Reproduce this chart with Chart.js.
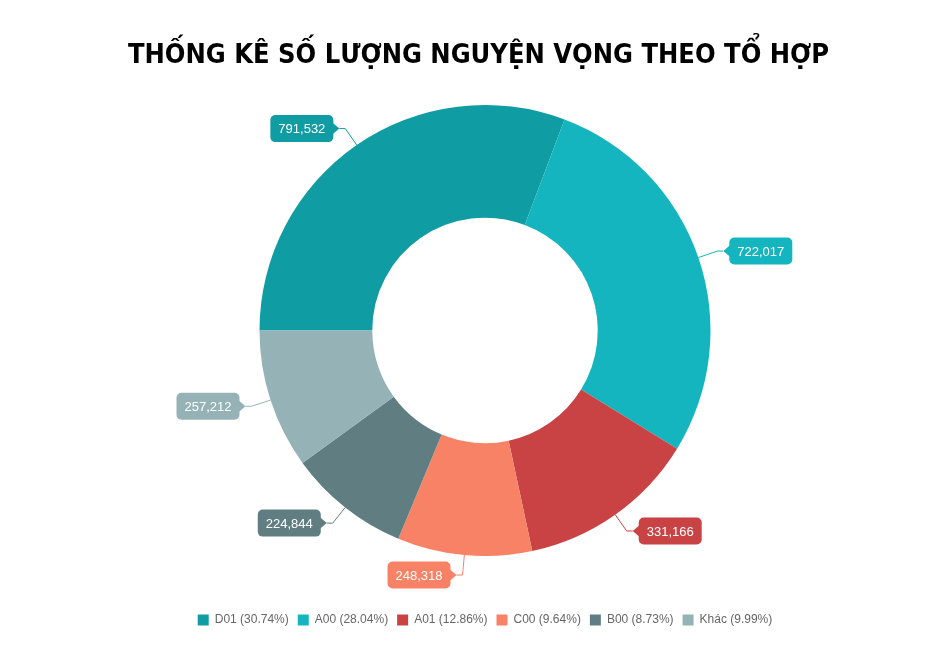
<!DOCTYPE html>
<html><head><meta charset="utf-8">
<script src="https://cdn.jsdelivr.net/npm/chart.js@4/dist/chart.umd.min.js"></script>
<style>html,body{margin:0;padding:0;background:#fff}#wrap{width:938px;height:653px}</style>
</head><body><div id="wrap"><canvas id="c" width="938" height="653"></canvas></div>
<script>
const titleText = "THỐNG KÊ SỐ LƯỢNG NGUYỆN VỌNG THEO TỔ HỢP";
const categories = ["D01", "A00", "A01", "C00", "B00", "Khác"];
const values = [791532, 722017, 331166, 248318, 224844, 257212];
const colors = ["#109ca3", "#14b5be", "#c94345", "#f88265", "#607e82", "#95b3b7"];

const total = values.reduce((a, b) => a + b, 0);
const fmt = v => v.toLocaleString('en-US');

const titleShift = {
  id: 'titleShift',
  afterLayout(chart) {
    const t = chart.titleBlock;
    if (t) { t.left -= 6.5; t.right -= 6.5; }
  }
};

const calloutPlugin = {
  id: 'callouts',
  afterDatasetsDraw(chart) {
    const ctx = chart.ctx;
    const meta = chart.getDatasetMeta(0);
    ctx.save();
    ctx.font = '13px "Liberation Sans", Arial, sans-serif';
    meta.data.forEach((arc, i) => {
      const p = arc.getProps(['x', 'y', 'startAngle', 'endAngle', 'outerRadius'], true);
      const mid = (p.startAngle + p.endAngle) / 2;
      const c = Math.cos(mid), s = Math.sin(mid);
      const x0 = p.x + c * p.outerRadius, y0 = p.y + s * p.outerRadius;
      const x1 = p.x + c * (p.outerRadius + 20), y1 = p.y + s * (p.outerRadius + 20);
      const dir = c >= 0 ? 1 : -1;
      const x2 = x1 + dir * 6;
      ctx.strokeStyle = colors[i];
      ctx.lineWidth = 1;
      ctx.beginPath(); ctx.moveTo(x0, y0); ctx.lineTo(x1, y1); ctx.lineTo(x2, y1); ctx.stroke();
      const text = fmt(values[i]);
      const tw = ctx.measureText(text).width;
      const w = tw + 16, h = 27, r = 5, pt = 6;
      const bx = dir > 0 ? x2 + pt : x2 - pt - w;
      const by = y1 - h / 2;
      ctx.fillStyle = colors[i];
      ctx.beginPath();
      ctx.roundRect(bx, by, w, h, r);
      ctx.fill();
      ctx.beginPath();
      const edge = dir > 0 ? bx + 1 : bx + w - 1;
      ctx.moveTo(edge, y1 - 6); ctx.lineTo(x2, y1); ctx.lineTo(edge, y1 + 6); ctx.closePath();
      ctx.fill();
      ctx.fillStyle = '#ffffff';
      ctx.textAlign = 'center'; ctx.textBaseline = 'middle';
      ctx.fillText(text, bx + w / 2, y1 + 1);
    });
    ctx.restore();
  }
};

new Chart(document.getElementById('c'), {
  type: 'doughnut',
  data: {
    labels: categories,
    datasets: [{ data: values, backgroundColor: colors, borderWidth: 0, hoverOffset: 0, offset: 0 }]
  },
  options: {
    responsive: false,
    animation: false,
    rotation: -90,
    cutout: '50%',
    layout: { padding: { left: 32, right: 0, top: 0, bottom: 17 } },
    plugins: {
      tooltip: { enabled: false },
      title: {
        display: true, text: titleText, color: '#000',
        font: { family: '"DejaVu Sans Condensed", "DejaVu Sans", Tahoma, sans-serif', size: 27, weight: 'bold' },
        padding: { top: 40, bottom: 32.6 }
      },
      legend: {
        position: 'bottom',
        title: { display: true, text: '', font: { size: 12 }, padding: { top: 0, bottom: 34.6 } },
        labels: {
          boxWidth: 11, boxHeight: 11, padding: 9, color: '#333',
          font: { family: '"Liberation Sans", Arial, sans-serif', size: 12 },
          generateLabels(chart) {
            return categories.map((cat, i) => ({
              text: cat + ' (' + (values[i] / total * 100).toFixed(2) + '%)',
              fillStyle: colors[i], strokeStyle: colors[i], lineWidth: 0, index: i, hidden: false
            }));
          }
        }
      }
    }
  },
  plugins: [titleShift, calloutPlugin]
});
</script></body></html>
